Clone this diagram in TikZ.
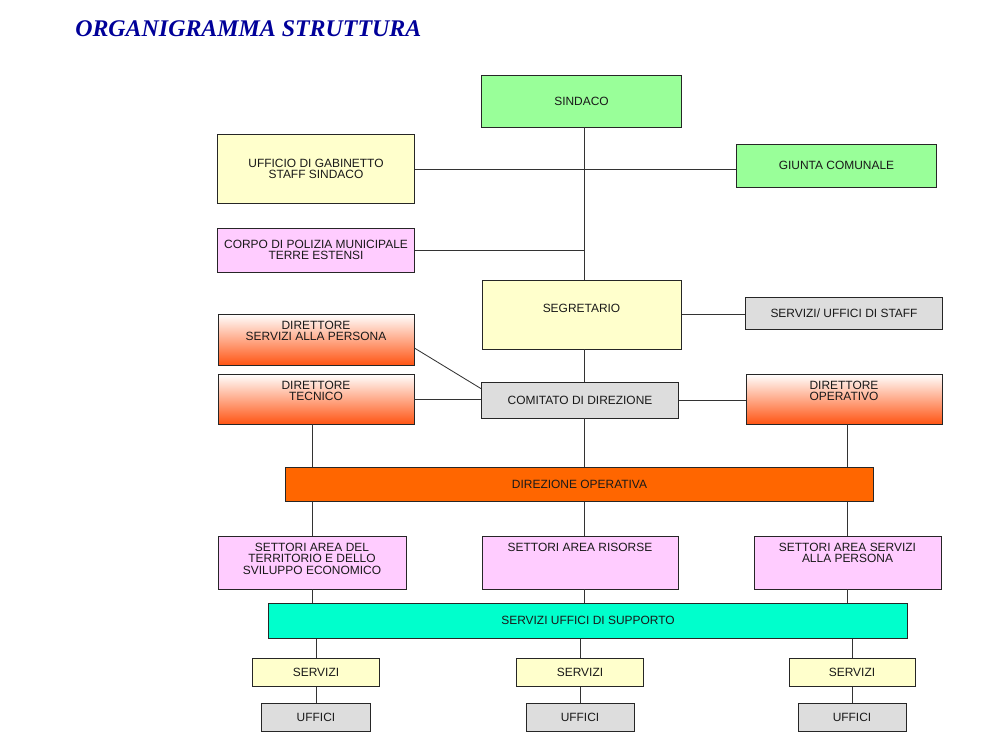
\documentclass[tikz,border=0pt]{standalone}
\usepackage{fontspec}
\setmainfont{Liberation Sans}
\newfontfamily\titlefont{Liberation Serif}
\usepackage{xcolor}
\usepackage{tikz}
\usetikzlibrary{calc, fit}
\definecolor{verde}{RGB}{153,255,153}
\definecolor{giallo}{RGB}{255,255,204}
\definecolor{rosa}{RGB}{255,204,255}
\definecolor{grigio}{RGB}{221,221,221}
\definecolor{arancio}{RGB}{255,102,0}
\definecolor{rosso}{RGB}{255,85,20}
\definecolor{turchese}{RGB}{0,255,204}
\definecolor{blu}{RGB}{0,0,153}
\tikzset{
  box/.style={draw=black!85, line width=0.7pt, inner sep=0pt, align=center,
    font=\fontsize{8.5}{8.3}\selectfont, text=black!90},
  txt/.style={anchor=north, inner sep=0pt, yshift=-5pt, align=center,
    font=\fontsize{8.5}{8.3}\selectfont, text=black!90},
  dir/.style={box, top color=white, bottom color=rosso},
  link/.style={draw=black!80, line width=0.6pt}
}

\begin{document}
\begin{tikzpicture}[x=0.025cm, y=-0.025cm]
\useasboundingbox (0,0) rectangle (986,748);
\node [anchor=base west, inner sep=0pt, text=blu, font=\titlefont\bfseries\itshape\fontsize{17}{17}\selectfont] (titolo) at (75,37) {ORGANIGRAMMA STRUTTURA};
\coordinate (asse) at (584,0);
\node [box, fill=verde, minimum width=4.975cm, minimum height=1.275cm] (sindaco) at (581.5,101.5) {SINDACO};
\node [box, fill=giallo, minimum width=4.9cm, minimum height=1.7cm] (gabinetto) at (316,169) {UFFICIO DI GABINETTO\\STAFF SINDACO};
\node [box, fill=verde, minimum width=4.975cm, minimum height=1.075cm] (giunta) at (836.5,165.5) {GIUNTA COMUNALE};
\node [box, fill=rosa, minimum width=4.9cm, minimum height=1.1cm] (polizia) at (316,250) {CORPO DI POLIZIA MUNICIPALE\\TERRE ESTENSI};
\node [box, fill=giallo, fit={(482,280) (681,349)}] (segretario) {};
\node [txt, yshift=-12pt] (segretario-t) at (segretario.north) {SEGRETARIO};
\node [box, fill=grigio, minimum width=4.9cm, minimum height=0.8cm] (staff) at (844,313) {SERVIZI/ UFFICI DI STAFF};
\node [dir, fit={(218,314) (414,365)}] (dirpers) {};
\node [txt] (dirpers-t) at (dirpers.north) {DIRETTORE\\SERVIZI ALLA PERSONA};
\node [dir, fit={(218,374) (414,424)}] (dirtec) {};
\node [txt] (dirtec-t) at (dirtec.north) {DIRETTORE\\TECNICO};
\node [box, fill=grigio, minimum width=4.9cm, minimum height=0.9cm] (comitato) at (580,400) {COMITATO DI DIREZIONE};
\node [dir, fit={(746,374) (942,424)}] (dirop) {};
\node [txt] (dirop-t) at (dirop.north) {DIRETTORE\\OPERATIVO};
\node [box, fill=arancio, minimum width=14.675cm, minimum height=0.85cm] (direzione) at (579.5,484) {DIREZIONE OPERATIVA};
\node [box, fill=rosa, fit={(218,536) (406,589)}] (setterr) {};
\node [txt] (setterr-t) at (setterr.north) {SETTORI AREA DEL\\TERRITORIO E DELLO\\SVILUPPO ECONOMICO};
\node [box, fill=rosa, fit={(482,536) (678,589)}] (setris) {};
\node [txt] (setris-t) at (setris.north) {SETTORI AREA RISORSE};
\node [box, fill=rosa, fit={(754,536) (941,589)}] (setserv) {};
\node [txt] (setserv-t) at (setserv.north) {SETTORI AREA SERVIZI\\ALLA PERSONA};
\node [box, fill=turchese, minimum width=15.95cm, minimum height=0.875cm] (supporto) at (588,620.5) {SERVIZI UFFICI DI SUPPORTO};
\draw [link] (sindaco.south -| asse) -- (segretario.north -| asse);
\draw [link] (gabinetto) -- (gabinetto -| giunta.west);
\draw [link] (polizia) -- (polizia -| asse);
\draw [link] (segretario) -- (segretario -| staff.west);
\draw [link] (segretario.south -| asse) -- (comitato.north -| asse);
\draw [link] ($(dirpers.east)!0.33!(dirpers.south east)$) -- ($(comitato.west)!0.6!(comitato.north west)$);
\draw [link] (dirtec) -- (dirtec -| comitato.west);
\draw [link] (comitato) -- (comitato -| dirop.west);
\draw [link] (dirtec.south -| setterr) -- (direzione.north -| setterr);
\draw [link] (comitato.south -| asse) -- (direzione.north -| asse);
\draw [link] (dirop.south -| setserv) -- (direzione.north -| setserv);
\draw [link] (direzione.south -| setterr) -- (setterr);
\draw [link] (direzione.south -| asse) -- (setris.north -| asse);
\draw [link] (direzione.south -| setserv) -- (setserv);
\draw [link] (setterr) -- (setterr |- supporto.north);
\draw [link] (setris.south -| asse) -- (supporto.north -| asse);
\draw [link] (setserv) -- (setserv |- supporto.north);
\foreach \x/\n in {316/a, 580/b, 852/c} {
  \node [box, fill=giallo, minimum width=3.15cm, minimum height=0.7cm] (servizi-\n) at (\x,672) {SERVIZI};
  \node [box, fill=grigio, minimum width=2.7cm, minimum height=0.7cm] (uffici-\n) at (\x,717) {UFFICI};
  \draw [link] (supporto.south -| servizi-\n) -- (servizi-\n);
  \draw [link] (servizi-\n) -- (uffici-\n);
}
\end{tikzpicture}
\end{document}
